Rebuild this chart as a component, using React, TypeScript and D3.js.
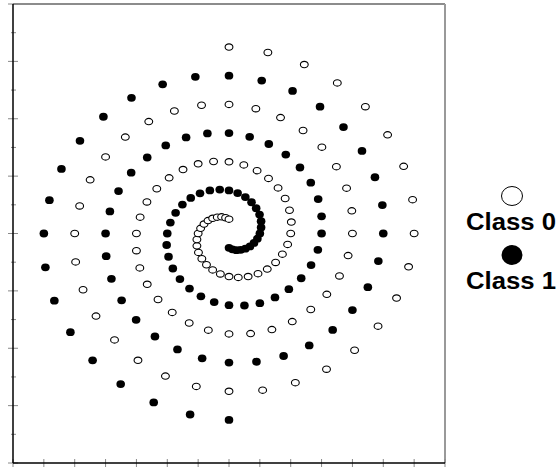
import React from "react";
import * as d3 from "d3";

// Class 0 spiral points (x, y)
const class0X = [0, 1.26, 2.44, 3.51, 4.42, 5.14, 5.66, 5.95, 6.0, 5.82, 5.43, 4.83, 4.07, 3.16, 2.15, 1.09, 0, -1.06, -2.06, -2.95, -3.71, -4.31, -4.73, -4.97, -5.0, -4.84, -4.5, -4.0, -3.36, -2.6, -1.77, -0.89, 0, 0.87, 1.67, 2.4, 3.01, 3.48, 3.81, 3.98, 4.0, 3.86, 3.58, 3.17, 2.65, 2.05, 1.39, 0.7, 0, -0.67, -1.29, -1.84, -2.3, -2.65, -2.89, -3.0, -3.0, -2.88, -2.66, -2.34, -1.94, -1.49, -1.0, -0.5, 0, 0.48, 0.91, 1.28, 1.59, 1.82, 1.96, 2.02, 2.0, 1.9, 1.73, 1.51, 1.24, 0.94, 0.62, 0.3, 0, -0.28, -0.53, -0.73, -0.88, -0.99, -1.04, -1.04, -1.0, -0.92, -0.81, -0.68, -0.53, -0.38, -0.24, -0.11, 0];
const class0Y = [6.5, 6.31, 5.89, 5.25, 4.42, 3.44, 2.34, 1.18, 0, -1.16, -2.25, -3.23, -4.07, -4.73, -5.2, -5.46, -5.5, -5.33, -4.97, -4.42, -3.71, -2.88, -1.96, -0.99, 0, 0.96, 1.87, 2.67, 3.36, 3.9, 4.27, 4.47, 4.5, 4.35, 4.04, 3.59, 3.01, 2.33, 1.58, 0.79, 0, -0.77, -1.48, -2.12, -2.65, -3.07, -3.35, -3.49, -3.5, -3.37, -3.12, -2.75, -2.3, -1.77, -1.2, -0.6, 0, 0.57, 1.1, 1.56, 1.94, 2.23, 2.43, 2.51, 2.5, 2.39, 2.19, 1.92, 1.59, 1.22, 0.81, 0.4, 0, -0.38, -0.72, -1.01, -1.24, -1.4, -1.5, -1.53, -1.5, -1.41, -1.27, -1.09, -0.88, -0.66, -0.43, -0.21, 0, 0.18, 0.33, 0.45, 0.53, 0.57, 0.58, 0.55, 0.5];

// Class 1 spiral points (x, y)
const class1X = [0, -1.26, -2.44, -3.51, -4.42, -5.14, -5.66, -5.95, -6.0, -5.82, -5.43, -4.83, -4.07, -3.16, -2.15, -1.09, 0, 1.06, 2.06, 2.95, 3.71, 4.31, 4.73, 4.97, 5.0, 4.84, 4.5, 4.0, 3.36, 2.6, 1.77, 0.89, 0, -0.87, -1.67, -2.4, -3.01, -3.48, -3.81, -3.98, -4.0, -3.86, -3.58, -3.17, -2.65, -2.05, -1.39, -0.7, 0, 0.67, 1.29, 1.84, 2.3, 2.65, 2.89, 3.0, 3.0, 2.88, 2.66, 2.34, 1.94, 1.49, 1.0, 0.5, 0, -0.48, -0.91, -1.28, -1.59, -1.82, -1.96, -2.02, -2.0, -1.9, -1.73, -1.51, -1.24, -0.94, -0.62, -0.3, 0, 0.28, 0.53, 0.73, 0.88, 0.99, 1.04, 1.04, 1.0, 0.92, 0.81, 0.68, 0.53, 0.38, 0.24, 0.11, 0];
const class1Y = [-6.5, -6.31, -5.89, -5.25, -4.42, -3.44, -2.34, -1.18, 0, 1.16, 2.25, 3.23, 4.07, 4.73, 5.2, 5.46, 5.5, 5.33, 4.97, 4.42, 3.71, 2.88, 1.96, 0.99, 0, -0.96, -1.87, -2.67, -3.36, -3.9, -4.27, -4.47, -4.5, -4.35, -4.04, -3.59, -3.01, -2.33, -1.58, -0.79, 0, 0.77, 1.48, 2.12, 2.65, 3.07, 3.35, 3.49, 3.5, 3.37, 3.12, 2.75, 2.3, 1.77, 1.2, 0.6, 0, -0.57, -1.1, -1.56, -1.94, -2.23, -2.43, -2.51, -2.5, -2.39, -2.19, -1.92, -1.59, -1.22, -0.81, -0.4, 0, 0.38, 0.72, 1.01, 1.24, 1.4, 1.5, 1.53, 1.5, 1.41, 1.27, 1.09, 0.88, 0.66, 0.43, 0.21, 0, -0.18, -0.33, -0.45, -0.53, -0.57, -0.58, -0.55, -0.5];

const xDomain = [-7, 7];
const yDomain = [-8, 8];
const legendLabels = ["Class 0", "Class 1"];

export default function App() {
  const left = 13, right = 445, top = 4, bottom = 463;
  const x = d3.scaleLinear().domain(xDomain).range([left, right]);
  const y = d3.scaleLinear().domain(yDomain).range([bottom, top]);
  const xTicks = d3.range(xDomain[0], xDomain[1] + 1, 1);
  const yTicks = d3.range(yDomain[0], yDomain[1] + 1, 1);
  const gray = "#888";
  const font = "'Liberation Sans', Arial, sans-serif";

  return (
    <svg width={558} height={468} style={{ position: "absolute", left: 0, top: 0, background: "#fff" }}>
      <rect x={0} y={0} width={558} height={468} fill="#fff" />
      {/* frame */}
      <line x1={left} x2={right} y1={top} y2={top} stroke="#666" strokeWidth={1.5} />
      <line x1={right} x2={right} y1={top} y2={bottom} stroke="#999" strokeWidth={2} />
      {/* ticks */}
      {yTicks.map((t) => {
        const major = Math.abs(t) % 2 === 0;
        return (
          <line key={"yt" + t} x1={major ? 8 : 11} x2={major ? 18 : 16} y1={y(t)} y2={y(t)} stroke={gray} strokeWidth={1} />
        );
      })}
      {xTicks.map((t) => (
        <line key={"xt" + t} x1={x(t)} x2={x(t)} y1={bottom - 4} y2={bottom + 4} stroke={gray} strokeWidth={1} />
      ))}
      <line x1={left} x2={left} y1={top} y2={bottom} stroke="#000" strokeWidth={1.5} />
      <line x1={left} x2={right} y1={bottom} y2={bottom} stroke="#000" strokeWidth={1.5} />
      {/* points */}
      {class0X.map((v, i) => (
        <ellipse key={"c0" + i} cx={x(v)} cy={y(class0Y[i])} rx={3.9} ry={3.2} fill="#fff" stroke="#000" strokeWidth={1.1} />
      ))}
      {class1X.map((v, i) => (
        <ellipse key={"c1" + i} cx={x(v)} cy={y(class1Y[i])} rx={4.3} ry={3.9} fill="#000" />
      ))}
      {/* legend */}
      <ellipse cx={512} cy={196} rx={10.5} ry={9.5} fill="#fff" stroke="#000" strokeWidth={1} />
      <text x={511} y={230} textAnchor="middle" fontFamily={font} fontWeight="bold" fontSize={23} textLength={90} lengthAdjust="spacingAndGlyphs" fill="#000">{legendLabels[0]}</text>
      <ellipse cx={512} cy={255} rx={10.5} ry={10} fill="#000" />
      <text x={511} y={289} textAnchor="middle" fontFamily={font} fontWeight="bold" fontSize={23} textLength={90} lengthAdjust="spacingAndGlyphs" fill="#000">{legendLabels[1]}</text>
    </svg>
  );
}
